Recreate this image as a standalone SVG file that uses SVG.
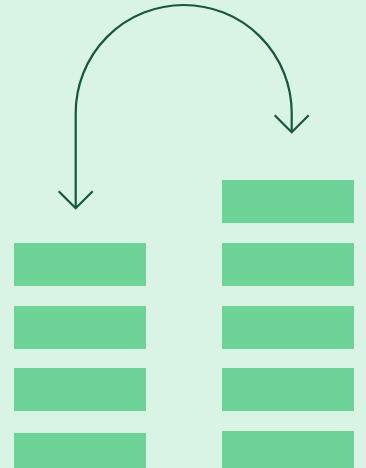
<svg xmlns="http://www.w3.org/2000/svg" width="366" height="468" viewBox="0 0 366 468">
<style>
.bg{fill:#d9f4e4}
.blk{fill:#6dd396}
.con{fill:none;stroke:#17573c;stroke-width:2.2}
</style>
<rect class="bg" x="0" y="0" width="366" height="468"/>
<g id="left-stack">
<g id="l1"><rect class="blk" x="14" y="243" width="132" height="43"/></g>
<g id="l2"><rect class="blk" x="14" y="306" width="132" height="43"/></g>
<g id="l3"><rect class="blk" x="14" y="368" width="132" height="43"/></g>
<g id="l4"><rect class="blk" x="14" y="433" width="132" height="43"/></g>
</g>
<g id="right-stack">
<g id="r0"><rect class="blk" x="222" y="180" width="132" height="43"/></g>
<g id="r1"><rect class="blk" x="222" y="243" width="132" height="43"/></g>
<g id="r2"><rect class="blk" x="222" y="306" width="132" height="43"/></g>
<g id="r3"><rect class="blk" x="222" y="368" width="132" height="43"/></g>
<g id="r4"><rect class="blk" x="222" y="431" width="132" height="43"/></g>
</g>
<g id="connectors">
<path class="con" d="M75.7,208 L75.7,113 A108,108 0 0 1 291.7,113 L291.7,132"/>
<path class="con" d="M58.7,191.3 L75.7,208.3 L92.7,191.3"/>
<path class="con" d="M274.7,115.3 L291.7,132.3 L308.7,115.3"/>
</g>
</svg>
